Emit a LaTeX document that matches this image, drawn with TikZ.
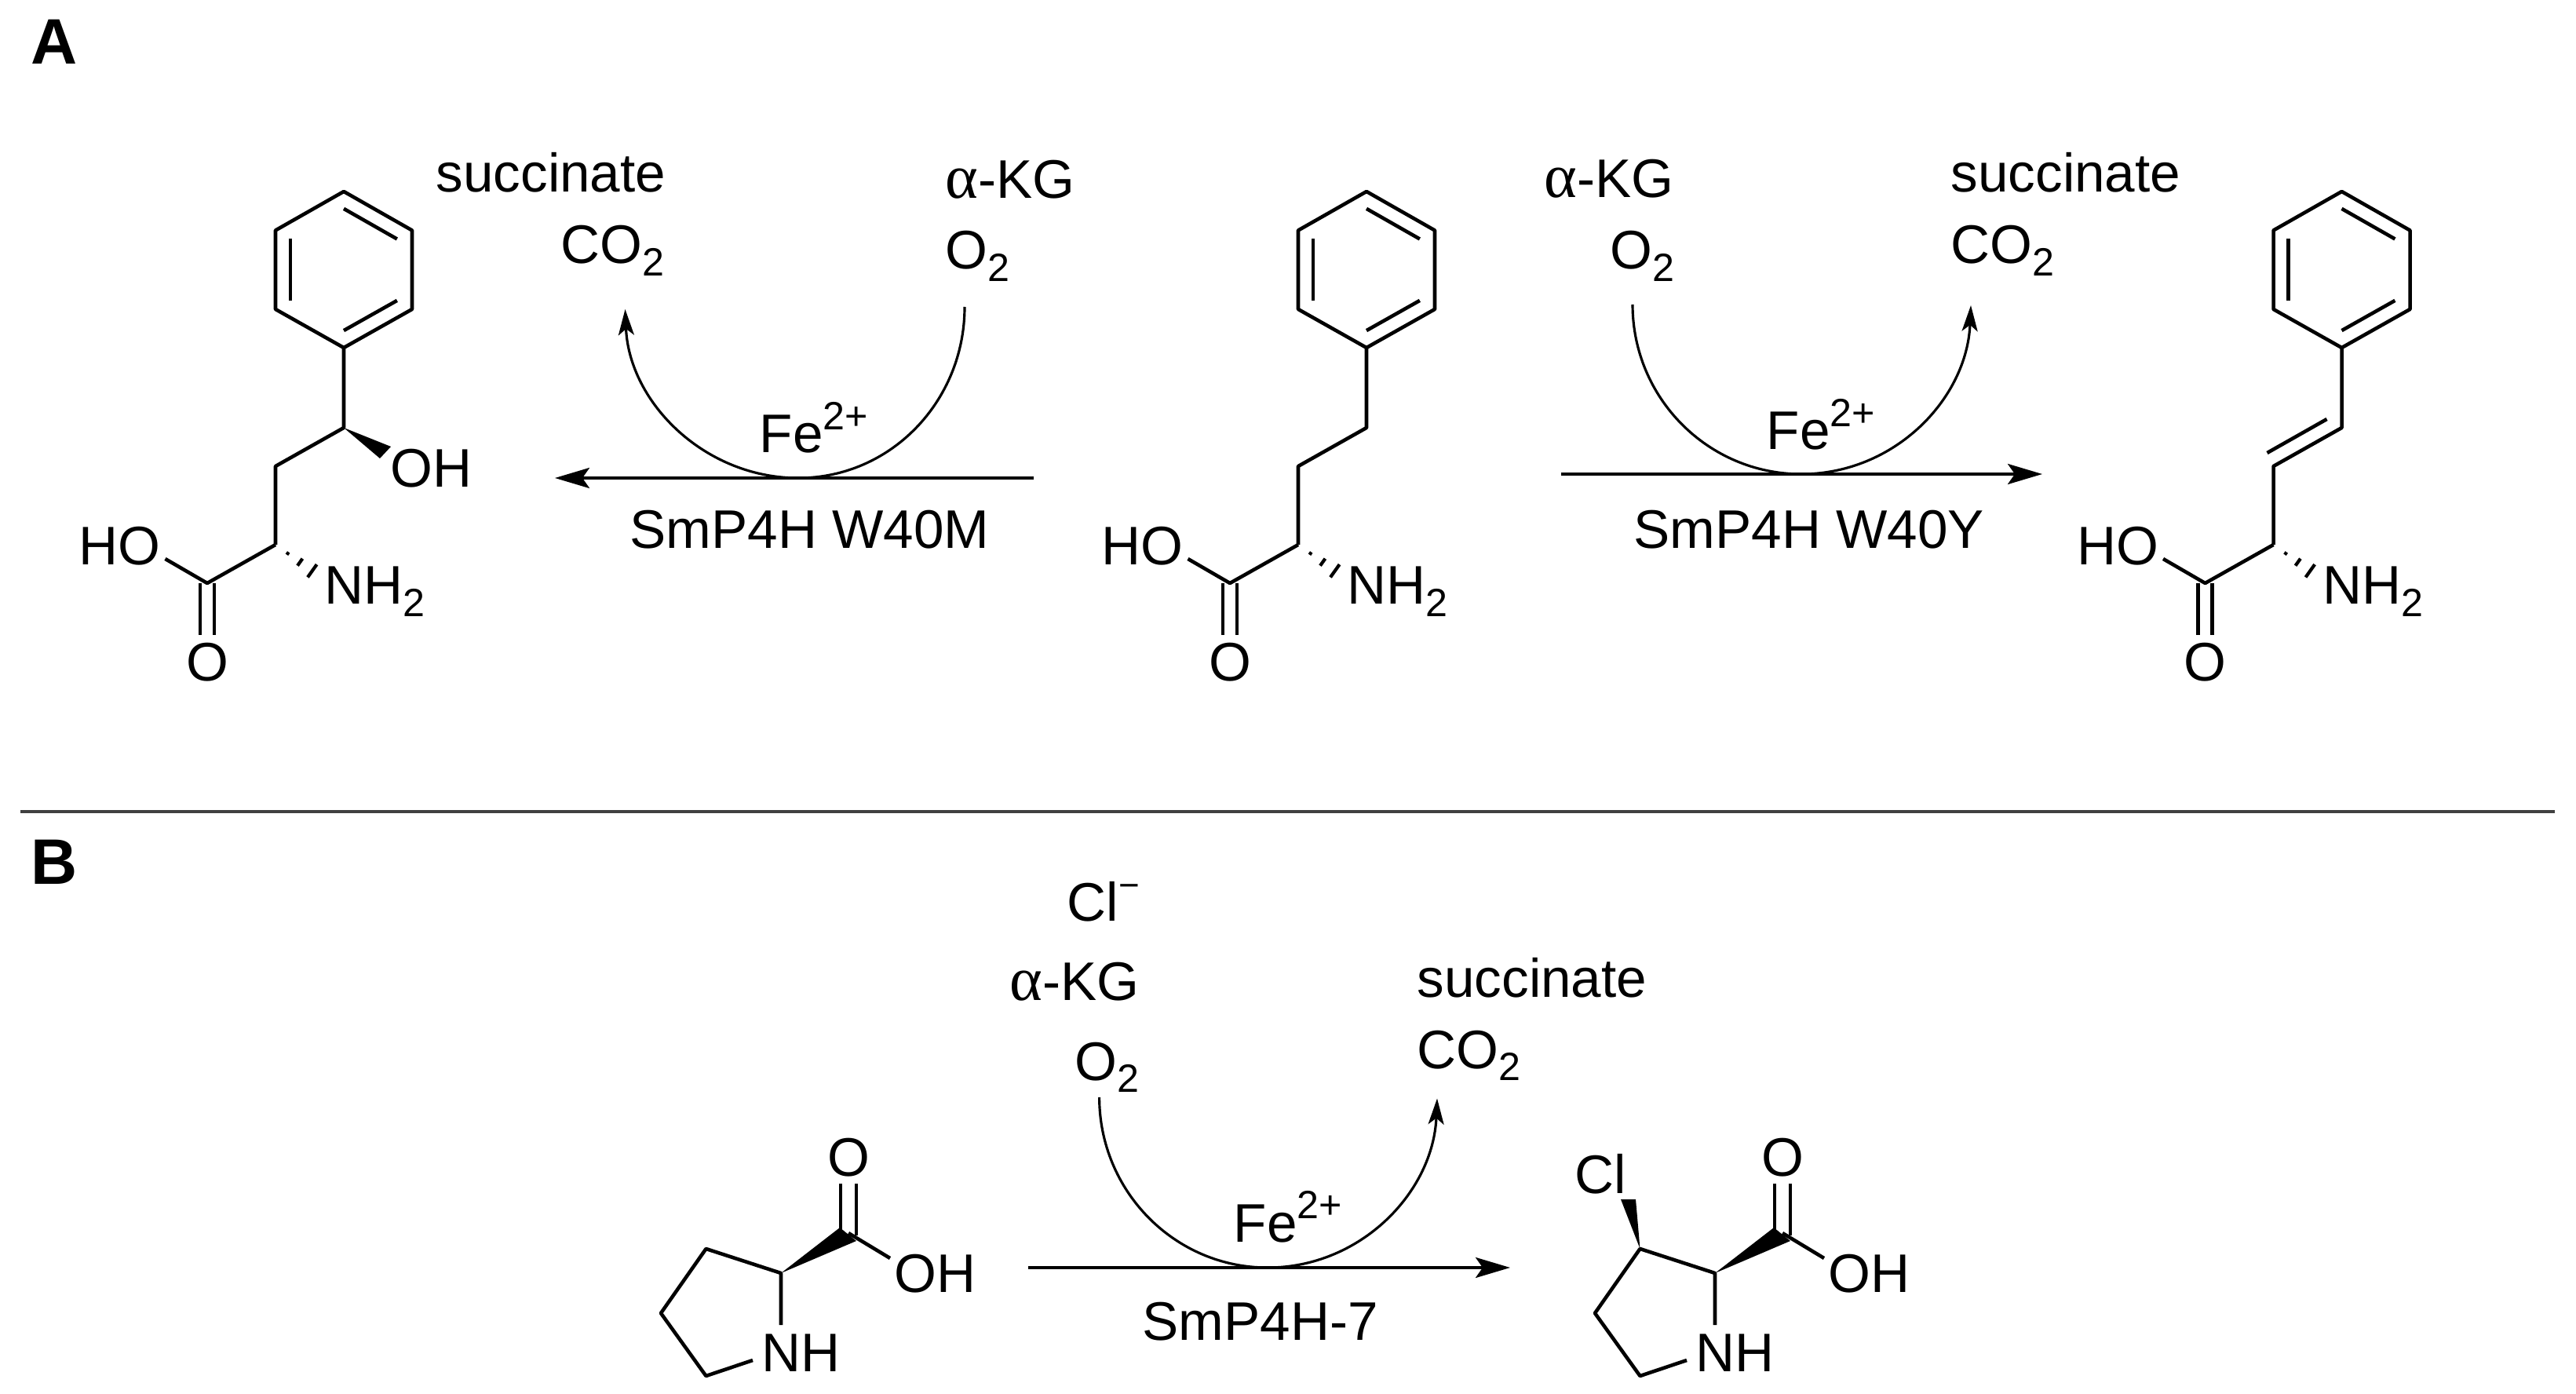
\documentclass[tikz,border=0pt]{standalone}
\usepackage{fontspec}
\setmainfont{Liberation Sans}
\newfontfamily\alphafont[Scale=1.15]{Liberation Serif}
\usetikzlibrary{arrows.meta,calc}
\tikzset{
  chem/.style={inner sep=0pt,anchor=base west,xshift=-.03cm,font=\fontsize{19.7}{23}\selectfont},
  panel/.style={inner sep=0pt,anchor=base west,font=\fontsize{23.3}{26}\selectfont\bfseries},
  bond/.style={line width=1.3pt,line join=round},
  hashed/.style={line width=1.2pt},
  rxn/.style={line width=1.05pt,-{Stealth[length=.44cm,width=.26cm,inset=.09cm]}},
  cofactor/.style={line width=.9pt,-{Stealth[length=.33cm,width=.2cm,inset=.08cm]}},
}
\newcommand{\subtwo}{\raisebox{-.23em}{\fontsize{14.3}{14}\selectfont 2}}
\newcommand{\supfe}{\raisebox{.42em}{\fontsize{14.3}{14}\selectfont 2+}}
\newcommand{\akg}{{\alphafont α}-KG}
% phenyl ring hanging from (r4)
\newcommand{\phering}{
  \coordinate (c) at (4.38,3.435);
  \coordinate (r1) at (4.38,2.44);
  \coordinate (r2) at (5.25,2.935);
  \coordinate (r3) at (5.25,3.94);
  \coordinate (r4) at (4.38,4.43);
  \coordinate (r5) at (3.51,3.94);
  \coordinate (r6) at (3.51,2.935);
  \draw[bond] (r1) -- (r2) -- (r3) -- (r4) -- (r5) -- (r6) -- cycle;
  \draw[bond] ($(c)!.78!(r1)$) -- ($(c)!.78!(r2)$);
  \draw[bond] ($(c)!.78!(r3)$) -- ($(c)!.78!(r4)$);
  \draw[bond] ($(c)!.78!(r5)$) -- ($(c)!.78!(r6)$);
}
% amino acid end, alpha carbon is (ca)
\newcommand{\aminoacid}{
  \coordinate (ca) at (3.51,6.94);
  \coordinate (cx) at (2.64,7.43);
  \coordinate (hoend) at (2.105,7.12);
  \coordinate (nend) at (4.03,7.31);
  \node[chem] (ho) at (1.03,7.19) {HO};
  \node[chem] (nh) at (4.16,7.70) {NH\subtwo};
  \node[chem,anchor=base] (o) at (2.67,8.68) {O};
  \draw[bond] (ca) -- (cx) -- (hoend);
  \draw[bond] ($(cx)+(-.09,0)$) -- ($(cx)+(-.09,.66)$);
  \draw[bond] ($(cx)+(.09,0)$) -- ($(cx)+(.09,.66)$);
  \foreach \t/\w in {.3/.02,.6/.055,.9/.1}
    \draw[hashed] ($($(ca)!\t!(nend)$)!\w cm!90:(nend)$) -- ($($(ca)!\t!(nend)$)!\w cm!-90:(nend)$);
}
% cofactor arc, #2 is where it touches the reaction arrow, #4 the side it runs to
\newcommand{\cofarc}[4]{
  \draw[cofactor] (#1) .. controls ($(#1)+(0,1.19)$) and ($(#2)+(-#4*1.19,0)$) .. (#2)
    .. controls ($(#2)+(#4*1.19,0)$) and ($(#3)+(-#4*.05,1.19)$) .. (#3);
}
% pyrrolidine ring with acid, alpha carbon is (c2)
\newcommand{\proline}{
  \coordinate (c2) at (9.95,16.22);
  \coordinate (c3) at (8.995,15.91);
  \coordinate (c4) at (8.42,16.73);
  \coordinate (c5) at (8.995,17.53);
  \coordinate (nend) at (9.59,17.33);
  \coordinate (cend) at (9.95,16.88);
  \coordinate (cx) at (10.81,15.71);
  \coordinate (hoend) at (11.34,16.03);
  \node[chem] (nh) at (9.73,17.47) {NH};
  \node[chem] (oh) at (11.42,16.46) {OH};
  \node[chem,anchor=base] (o) at (10.84,14.98) {O};
  \draw[bond] (cend) -- (c2) -- (c3) -- (c4) -- (c5) -- (nend);
  \draw[bond] (cx) -- (hoend);
  \draw[bond] ($(cx)+(-.1,-.03)$) -- ($(cx)+(-.1,-.63)$);
  \draw[bond] ($(cx)+(.1,.03)$) -- ($(cx)+(.1,-.63)$);
  \fill (c2) -- ($(cx)+(-.11,-.07)$) -- ($(cx)+(.1,.1)$) -- cycle;
}
\begin{document}
\begin{tikzpicture}[x=1cm,y=-1cm]
\useasboundingbox (0,0) rectangle (32.82,17.76);

\node[panel] (pa) at (.39,.82) {A};
\node[panel] (pb) at (.39,11.26) {B};
\coordinate (sepl) at (.26,10.34);
\coordinate (sepr) at (32.55,10.34);
\draw[line width=1.1pt,black!75] (sepl) -- (sepr);

% product with OH
\begin{scope}[name prefix=oh-]
  \phering
  \aminoacid
  \coordinate (c1) at (4.38,5.45);
  \coordinate (c2) at (3.51,5.94);
  \node[chem] (oh) at (5.00,6.21) {OH};
  \draw[bond] (r4) -- (c1) -- (c2) -- (ca);
  \fill (c1) -- (4.98,5.69) -- (4.84,5.84) -- cycle;
\end{scope}

% substrate
\begin{scope}[shift={(13.03,0)},name prefix=hp-]
  \phering
  \aminoacid
  \coordinate (c1) at (4.38,5.45);
  \coordinate (c2) at (3.51,5.94);
  \draw[bond] (r4) -- (c1) -- (c2) -- (ca);
\end{scope}

% product with double bond
\begin{scope}[shift={(25.455,0)},name prefix=db-]
  \phering
  \aminoacid
  \coordinate (c1) at (4.38,5.45);
  \coordinate (c2) at (3.51,5.94);
  \draw[bond] (r4) -- (c1) -- (c2) -- (ca);
  \draw[bond] (3.43,5.77) -- (4.19,5.34);
\end{scope}

% left reaction
\coordinate (ls) at (13.17,6.09);
\coordinate (lt) at (7.07,6.09);
\coordinate (lb) at (10.17,6.09);
\coordinate (la) at (12.29,3.91);
\coordinate (lz) at (7.965,3.94);
\draw[rxn] (ls) -- (lt);
\cofarc{la}{lb}{lz}{-1}
\node[chem] (lsuc) at (5.58,2.45) {succinate};
\node[chem] (lco) at (7.17,3.36) {CO\subtwo};
\node[chem] (lkg) at (12.07,2.53) {\akg};
\node[chem] (loo) at (12.07,3.43) {O\subtwo};
\node[chem] (lfe) at (9.70,5.77) {Fe\supfe};
\node[chem] (lenz) at (8.05,6.99) {SmP4H W40M};

% right reaction
\coordinate (rs) at (19.89,6.04);
\coordinate (rt) at (26.02,6.04);
\coordinate (rb) at (22.95,6.04);
\coordinate (ra) at (20.80,3.88);
\coordinate (rz) at (25.11,3.89);
\draw[rxn] (rs) -- (rt);
\cofarc{ra}{rb}{rz}{1}
\node[chem] (rsuc) at (24.88,2.45) {succinate};
\node[chem] (rco) at (24.88,3.36) {CO\subtwo};
\node[chem] (rkg) at (19.70,2.52) {\akg};
\node[chem] (roo) at (20.54,3.43) {O\subtwo};
\node[chem] (rfe) at (22.53,5.73) {Fe\supfe};
\node[chem] (renz) at (20.84,6.99) {SmP4H W40Y};

% panel B
\begin{scope}[name prefix=pr-]
  \proline
\end{scope}
\begin{scope}[shift={(11.90,0)},name prefix=cl-]
  \proline
  \node[chem] (cl) at (8.19,15.20) {Cl};
  \fill (c3) -- (8.75,15.28) -- (8.94,15.28) -- cycle;
\end{scope}

\coordinate (bs) at (13.10,16.15);
\coordinate (bt) at (19.24,16.15);
\coordinate (bb) at (16.15,16.15);
\coordinate (ba) at (14.006,13.98);
\coordinate (bz) at (18.31,13.995);
\draw[rxn] (bs) -- (bt);
\cofarc{ba}{bb}{bz}{1}
\node[chem] (bcl) at (13.62,11.73) {Cl\raisebox{.42em}{\fontsize{13}{13}\selectfont −}};
\node[chem] (bkg) at (12.89,12.745) {\akg};
\node[chem] (boo) at (13.72,13.76) {O\subtwo};
\node[chem] (bsuc) at (18.08,12.70) {succinate};
\node[chem] (bco) at (18.08,13.61) {CO\subtwo};
\node[chem] (bfe) at (15.74,15.82) {Fe\supfe};
\node[chem] (benz) at (14.58,17.07) {SmP4H-7};
\end{tikzpicture}
\end{document}
